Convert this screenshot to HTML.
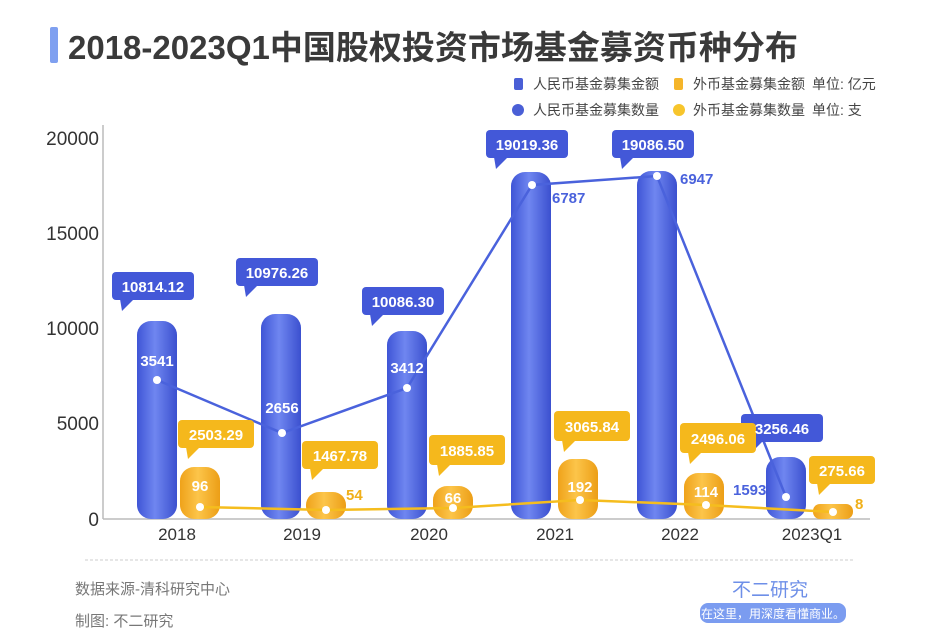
<!DOCTYPE html>
<html><head><meta charset="utf-8"><style>
body{margin:0;background:#fff;}
svg{display:block;font-family:"Liberation Sans","Noto Sans CJK SC",sans-serif;}
</style></head><body>
<svg width="940" height="644" viewBox="0 0 940 644" xmlns="http://www.w3.org/2000/svg">
<defs>
<linearGradient id="gb" x1="0" x2="1"><stop offset="0" stop-color="#3f55d6"/><stop offset="0.45" stop-color="#6f86f0"/><stop offset="1" stop-color="#3b50cf"/></linearGradient>
<linearGradient id="go" x1="0" x2="1"><stop offset="0" stop-color="#efa21a"/><stop offset="0.45" stop-color="#fcc54a"/><stop offset="1" stop-color="#ec9e16"/></linearGradient>
</defs>
<rect x="50" y="27" width="8" height="36" rx="2" fill="#7fa0f0"/>
<text x="68" y="59" font-size="33" font-weight="bold" fill="#3a3a3a">2018-2023Q1中国股权投资市场基金募资币种分布</text>
<g font-size="14" fill="#444">
<rect x="514" y="78" width="9" height="12" rx="2" fill="#4a5fd6"/><text x="533" y="89">人民币基金募集金额</text>
<rect x="674" y="78" width="9" height="12" rx="2" fill="#f5b52a"/><text x="693" y="89">外币基金募集金额</text><text x="812" y="89">单位: 亿元</text>
<circle cx="518" cy="110" r="6" fill="#4a5fd6"/><text x="533" y="115">人民币基金募集数量</text>
<circle cx="679" cy="110" r="6" fill="#f7c52c"/><text x="693" y="115">外币基金募集数量</text><text x="812" y="115">单位: 支</text>
</g>
<line x1="103" y1="125" x2="103" y2="519" stroke="#bbb" stroke-width="1.5"/>
<line x1="103" y1="519" x2="870" y2="519" stroke="#bbb" stroke-width="1.5"/>
<g font-size="19" fill="#333" text-anchor="end">
<text x="99" y="145">20000</text><text x="99" y="240">15000</text><text x="99" y="335">10000</text><text x="99" y="430">5000</text><text x="99" y="526">0</text>
</g>
<g font-size="17" fill="#333" text-anchor="middle">
<text x="177" y="540">2018</text><text x="302" y="540">2019</text><text x="429" y="540">2020</text><text x="555" y="540">2021</text><text x="680" y="540">2022</text><text x="812" y="540">2023Q1</text>
</g>
<g fill="url(#gb)">
<rect x="137" y="321" width="40" height="198" rx="14"/>
<rect x="261" y="314" width="40" height="205" rx="14"/>
<rect x="387" y="331" width="40" height="188" rx="14"/>
<rect x="511" y="172" width="40" height="347" rx="14"/>
<rect x="637" y="171" width="40" height="348" rx="14"/>
<rect x="766" y="457" width="40" height="62" rx="14"/>
</g>
<g fill="url(#go)">
<rect x="180" y="467" width="40" height="52" rx="14"/>
<rect x="306" y="492" width="40" height="27" rx="13"/>
<rect x="433" y="486" width="40" height="33" rx="14"/>
<rect x="558" y="459" width="40" height="60" rx="14"/>
<rect x="684" y="473" width="40" height="46" rx="14"/>
<rect x="813" y="504" width="40" height="15" rx="7"/>
</g>
<polyline points="157,380 282,433 407,388 532,185 657,176 786,497" fill="none" stroke="#4a62dc" stroke-width="2.5"/>
<polyline points="200,507 326,510 453,508 580,500 706,505 833,512" fill="none" stroke="#f5bd1e" stroke-width="2.5"/>
<g fill="#fff">
<circle cx="157" cy="380" r="4"/><circle cx="282" cy="433" r="4"/><circle cx="407" cy="388" r="4"/><circle cx="532" cy="185" r="4"/><circle cx="657" cy="176" r="4"/><circle cx="786" cy="497" r="4"/>
<circle cx="200" cy="507" r="4"/><circle cx="326" cy="510" r="4"/><circle cx="453" cy="508" r="4"/><circle cx="580" cy="500" r="4"/><circle cx="706" cy="505" r="4"/><circle cx="833" cy="512" r="4"/>
</g>
<g fill="#4358d8">
<rect x="112" y="272" width="82" height="28" rx="4"/><path d="M120 299 L134 299 L122 311Z"/>
<rect x="236" y="258" width="82" height="28" rx="4"/><path d="M244 285 L258 285 L246 297Z"/>
<rect x="362" y="287" width="82" height="28" rx="4"/><path d="M370 314 L384 314 L372 326Z"/>
<rect x="486" y="130" width="82" height="28" rx="4"/><path d="M494 157 L508 157 L496 169Z"/>
<rect x="612" y="130" width="82" height="28" rx="4"/><path d="M620 157 L634 157 L622 169Z"/>
<rect x="741" y="414" width="82" height="28" rx="4"/><path d="M749 441 L763 441 L751 453Z"/>
</g>
<g fill="#f5b81c">
<rect x="178" y="420" width="76" height="28" rx="4"/><path d="M186 447 L200 447 L188 459Z"/>
<rect x="302" y="441" width="76" height="28" rx="4"/><path d="M310 468 L324 468 L312 480Z"/>
<rect x="429" y="435" width="76" height="30" rx="4"/><path d="M437 464 L451 464 L439 476Z"/>
<rect x="554" y="411" width="76" height="30" rx="4"/><path d="M562 440 L576 440 L564 452Z"/>
<rect x="680" y="423" width="76" height="30" rx="4"/><path d="M688 452 L702 452 L690 464Z"/>
<rect x="809" y="456" width="66" height="28" rx="4"/><path d="M817 483 L831 483 L819 495Z"/>
</g>
<g font-size="15" font-weight="bold" fill="#fff" text-anchor="middle">
<text x="153" y="292">10814.12</text><text x="277" y="278">10976.26</text><text x="403" y="307">10086.30</text>
<text x="527" y="150">19019.36</text><text x="653" y="150">19086.50</text><text x="782" y="434">3256.46</text>
<text x="216" y="440">2503.29</text><text x="340" y="461">1467.78</text><text x="467" y="456">1885.85</text>
<text x="592" y="432">3065.84</text><text x="718" y="444">2496.06</text><text x="842" y="476">275.66</text>
<text x="157" y="366">3541</text><text x="282" y="413">2656</text><text x="407" y="373">3412</text>
<text x="200" y="491">96</text><text x="453" y="503">66</text><text x="580" y="492">192</text><text x="706" y="497">114</text>
</g>
<g font-size="15" font-weight="bold" fill="#4a62dc">
<text x="552" y="203">6787</text><text x="680" y="184">6947</text><text x="733" y="495">1593</text>
</g>
<g font-size="15" font-weight="bold" fill="#f0b01a">
<text x="346" y="500">54</text><text x="855" y="509">8</text>
</g>
<line x1="85" y1="560" x2="855" y2="560" stroke="#ccc" stroke-dasharray="3,2"/>
<text x="75" y="594" font-size="15" fill="#777">数据来源-清科研究中心</text>
<text x="75" y="626" font-size="15" fill="#777">制图: 不二研究</text>
<text x="770" y="596" font-size="19" fill="#6e8fe8" text-anchor="middle">不二研究</text>
<rect x="700" y="603" width="146" height="20" rx="8" fill="#7b9cf0"/>
<text x="773" y="618" font-size="12" fill="#fff" text-anchor="middle">在这里，用深度看懂商业。</text>
</svg>
</body></html>
